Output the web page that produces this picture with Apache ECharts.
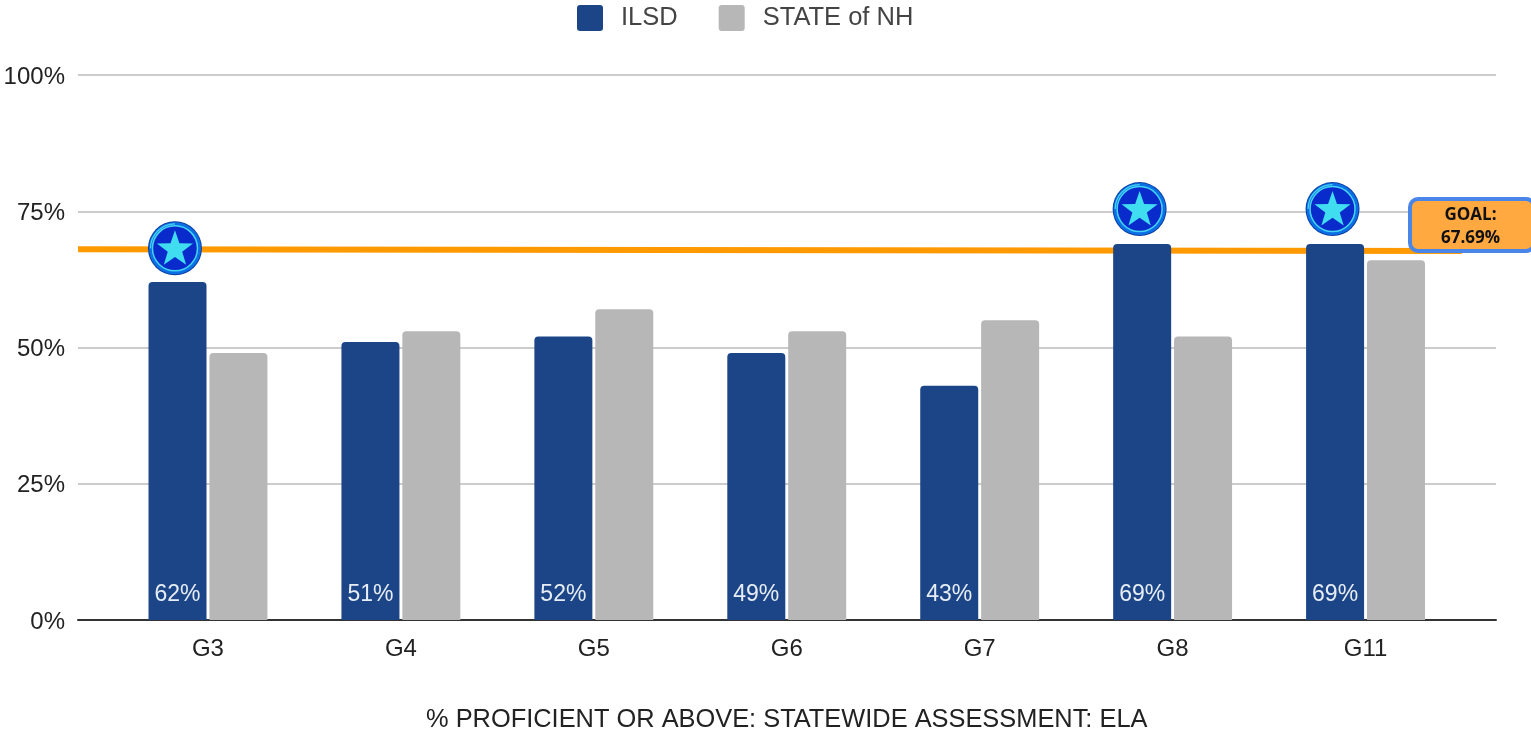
<!DOCTYPE html>
<html>
<head>
<meta charset="utf-8">
<title>% Proficient or above: ELA</title>
<style>
  html, body { margin: 0; padding: 0; background: #fff; }
  #main { width: 1531px; height: 734px; }
</style>
<script src="https://cdn.jsdelivr.net/npm/echarts@6/dist/echarts.min.js"></script>
</head>
<body>
<div id="main"></div>
<script>
var categories = ['G3', 'G4', 'G5', 'G6', 'G7', 'G8', 'G11'];
var ilsdValues = [62, 51, 52, 49, 43, 69, 69];
var stateValues = [49, 53, 57, 53, 55, 52, 66];
var yTicks = [0, 25, 50, 75, 100];
// star badges: [category, level the badge sits at]
var badges = [['G3', 68.2], ['G8', 75.4], ['G11', 75.4]];
// goal line runs along the wide grid, x in percent of its width
var goalLine = [[0, 68.05], [97.6, 67.7]];

var FONT = '"Liberation Sans", Arial, sans-serif';
var LEGEND_ICON = 'path://M3 0H23A3 3 0 0 1 26 3V23A3 3 0 0 1 23 26H3A3 3 0 0 1 0 23V3A3 3 0 0 1 3 0Z';

function starPoints(cx, cy, r) {
  var pts = [];
  for (var i = 0; i < 10; i++) {
    var rad = i % 2 ? r * 0.4 : r;
    var a = -Math.PI / 2 + i * Math.PI / 5;
    pts.push([cx + rad * Math.cos(a), cy + rad * Math.sin(a)]);
  }
  return pts;
}

function renderBadge(params, api) {
  var p = api.coord([api.value(0), api.value(1)]);
  // badge sits over the ILSD bar, left of the category centre
  var cx = p[0] - 33, cy = p[1];
  return {
    type: 'group',
    children: [
      { type: 'circle', shape: { cx: cx, cy: cy, r: 27 }, style: { fill: '#0b3fa6' } },
      { type: 'circle', shape: { cx: cx, cy: cy, r: 26 }, style: { fill: '#0c6fe4' } },
      { type: 'circle', shape: { cx: cx, cy: cy, r: 22.5 }, style: { fill: '#0a2bcc', stroke: '#45d4f2', lineWidth: 1.5 } },
      {
        type: 'arc',
        shape: { cx: cx, cy: cy, r: 24.5, startAngle: Math.PI, endAngle: Math.PI * 1.5 },
        style: { fill: null, stroke: '#45d4f2', lineWidth: 1.2 }
      },
      { type: 'polygon', shape: { points: starPoints(cx, cy + 1, 19) }, style: { fill: '#40dcf0' } }
    ]
  };
}

var chart = echarts.init(document.getElementById('main'));
chart.setOption({
  animation: false,
  backgroundColor: '#fff',
  textStyle: { fontFamily: FONT },
  legend: {
    left: 572,
    top: 0,
    itemWidth: 26,
    itemHeight: 26,
    itemGap: 41,
    icon: LEGEND_ICON,
    data: ['ILSD', 'STATE of NH'],
    textStyle: {
      fontFamily: FONT,
      fontSize: 25.5,
      color: '#444',
      padding: [0, 0, 0, 13],
      verticalAlign: 'top',
      lineHeight: 4
    }
  },
  grid: [
    // bars
    { left: 111.5, width: 1350.5, top: 75, height: 545, outerBoundsMode: 'none' },
    // wider one for gridlines, baseline and goal line
    { left: 78, width: 1418, top: 75, height: 545, outerBoundsMode: 'none' }
  ],
  xAxis: [
    {
      type: 'category',
      gridIndex: 0,
      data: categories,
      axisLine: { show: false },
      axisTick: { show: false },
      axisLabel: { fontFamily: FONT, fontSize: 24, color: '#222', margin: 17 },
      name: '% PROFICIENT OR ABOVE: STATEWIDE ASSESSMENT: ELA',
      nameLocation: 'middle',
      nameGap: 87,
      nameTextStyle: { fontFamily: FONT, fontSize: 25.4, color: '#222' }
    },
    {
      type: 'value',
      gridIndex: 1,
      min: 0,
      max: 100,
      splitLine: { show: false },
      axisTick: { show: false },
      axisLabel: { show: false },
      axisLine: { show: true, lineStyle: { color: '#333', width: 2 } }
    }
  ],
  yAxis: [
    { type: 'value', gridIndex: 0, min: 0, max: 100, show: false },
    {
      type: 'value',
      gridIndex: 1,
      min: yTicks[0],
      max: yTicks[yTicks.length - 1],
      interval: yTicks[1] - yTicks[0],
      axisLine: { show: false },
      axisTick: { show: false },
      axisLabel: {
        formatter: '{value}%',
        fontFamily: FONT,
        fontSize: 24,
        color: '#222',
        margin: 13,
        verticalAlign: 'top',
        lineHeight: 4
      },
      splitLine: { show: true, lineStyle: { color: '#ccc', width: 2 } }
    }
  ],
  series: [
    {
      name: 'goal',
      type: 'line',
      xAxisIndex: 1,
      yAxisIndex: 1,
      data: goalLine,
      z: 1,
      showSymbol: false,
      silent: true,
      lineStyle: { color: '#ff9900', width: 6 }
    },
    {
      name: 'ILSD',
      type: 'bar',
      data: ilsdValues,
      barWidth: 58,
      barGap: '5%',
      z: 2,
      itemStyle: { color: '#1c4587', borderRadius: [4, 4, 0, 0] },
      label: {
        show: true,
        position: 'insideBottom',
        distance: 14,
        formatter: '{c}%',
        fontFamily: FONT,
        fontSize: 23,
        color: '#e6edf5'
      }
    },
    {
      name: 'STATE of NH',
      type: 'bar',
      data: stateValues,
      barWidth: 58,
      z: 2,
      itemStyle: { color: '#b7b7b7', borderRadius: [4, 4, 0, 0] }
    },
    {
      name: 'badges',
      type: 'custom',
      data: badges,
      z: 5,
      silent: true,
      clip: false,
      renderItem: renderBadge
    }
  ],
  graphic: [
    {
      type: 'rect',
      z: 100,
      shape: { x: 1410, y: 199, width: 124, height: 52, r: 8 },
      style: { fill: '#ffa940', stroke: '#4a86e8', lineWidth: 4 }
    },
    {
      type: 'text',
      z: 101,
      x: 1470.5,
      y: 226.5,
      style: {
        text: 'GOAL:\n67.69%',
        align: 'center',
        verticalAlign: 'middle',
        font: 'bold 17px "Open Sans", sans-serif',
        lineHeight: 23,
        fill: '#111'
      }
    }
  ]
});
</script>
</body>
</html>
